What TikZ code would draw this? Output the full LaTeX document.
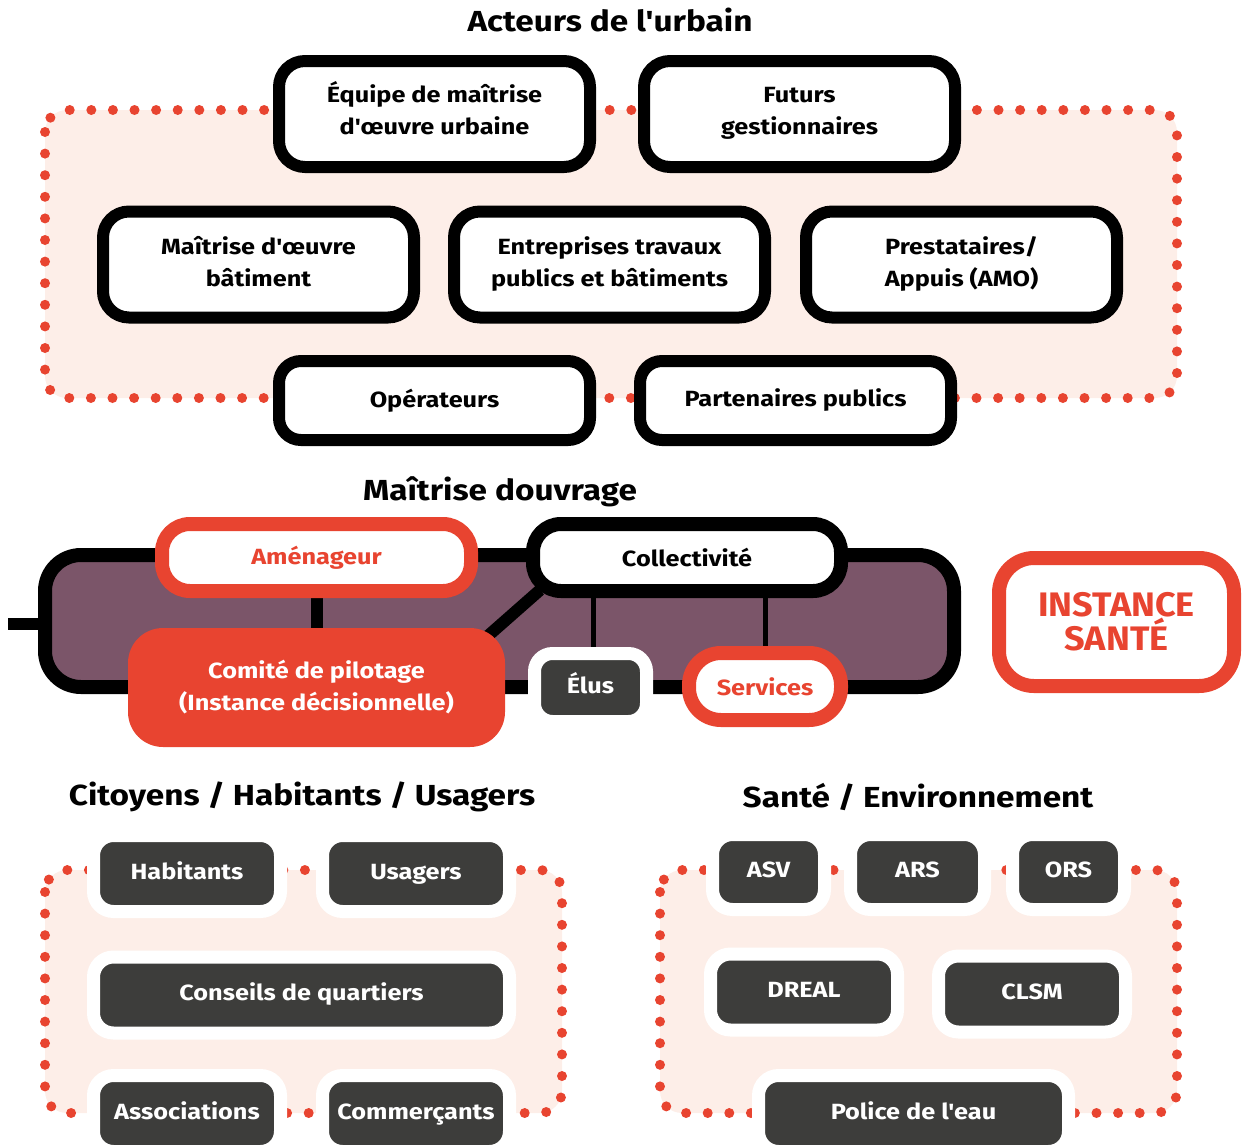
\documentclass[tikz,border=0pt]{standalone}
\usepackage{fontspec}
\setmainfont{Fira Sans}[Ligatures=TeXOff, FakeStretch=1.15]
\newfontfamily\condfont{Fira Sans}[Ligatures=TeXOff, FakeStretch=1.06]
\usetikzlibrary{calc}
\definecolor{rouge}{HTML}{E84430}
\definecolor{rose}{HTML}{FDEEE8}
\definecolor{fonce}{HTML}{3D3D3B}
\definecolor{violet}{HTML}{7B5569}
\pgfdeclarelayer{back}
\pgfdeclarelayer{links}
\pgfsetlayers{back,links,main}
\newcommand\deuxlignes[3]{\raisebox{#1}[\height][\depth]{\begin{tabular}{@{}c@{}}#2\\#3\end{tabular}}}
\tikzset{
  txt/.style={font=\bfseries\fontsize{22}{32}\selectfont, align=center, inner sep=0pt},
  titre/.style={font=\bfseries\fontsize{29}{34}\selectfont, inner sep=0pt},
  acteur/.style={txt, draw=black, line width=12pt, fill=white, rounded corners=26pt, minimum width=311pt, minimum height=106pt},
  acteurbas/.style={acteur, minimum height=79pt, rounded corners=22pt},
  zone/.style={draw=rouge, fill=rose, line width=10pt, dash pattern=on 0pt off 21.6pt, line cap=round, rounded corners=22pt},
  sombre/.style={txt, text=white, fill=fonce, draw=white, line width=13pt, rounded corners=20pt, minimum height=76pt, text height=16pt, text depth=5pt},
  lien/.style={draw=black, line width=12pt},
  lienfin/.style={draw=black, line width=5pt},
}
\begin{document}
\begin{tikzpicture}[x=1pt,y=-1pt]
\useasboundingbox (0,0) rectangle (1243,1144);

% ---------- Acteurs de l'urbain ----------
\node[titre] (t1) at (610,20) {Acteurs de l'urbain};
\begin{pgfonlayer}{back}
\draw[zone] (45,110) rectangle (1177,398);
\end{pgfonlayer}
\node[acteur] (equipe) at (434.5,114) {\deuxlignes{2pt}{Équipe de maîtrise}{d'œuvre urbaine}};
\node[acteur] (futurs) at (799.5,114) {\deuxlignes{2pt}{Futurs}{gestionnaires}};
\node[acteur] (moe) at (258.5,264.5) {\deuxlignes{0pt}{Maîtrise d'œuvre}{bâtiment}};
\node[acteur] (entr) at (609.5,264.5) {\deuxlignes{0pt}{Entreprises travaux}{publics et bâtiments}};
\node[acteur] (presta) at (961.5,264.5) {\deuxlignes{0pt}{Prestataires/}{Appuis (AMO)}};
\node[acteurbas] (oper) at (434.5,400.5) {Opérateurs};
\node[acteurbas] (part) at (795.5,400.5) {Partenaires publics};

% ---------- Maîtrise d'ouvrage ----------
\node[titre] (t2) at (500,492) {Maîtrise douvrage};
\begin{pgfonlayer}{back}
\node[draw=black, fill=violet, line width=14pt, rounded corners=36pt, minimum width=909pt, minimum height=132pt] (band) at (499.5,621) {};
\end{pgfonlayer}
\coordinate (stub) at (8,624);
\node[txt, text=rouge, draw=rouge, fill=white, line width=14pt, rounded corners=28pt, minimum width=309pt, minimum height=67pt] (amen) at (316.5,557.5) {Aménageur};
\node[txt, draw=black, fill=white, line width=14pt, rounded corners=28pt, minimum width=308pt, minimum height=67pt] (coll) at (687,557.5) {Collectivité};
\node[txt, text=white, fill=rouge, rounded corners=35pt, minimum width=377pt, minimum height=119pt] (comite) at (316.5,687.5) {Comité de pilotage\\(Instance décisionnelle)};
\node[sombre, minimum width=112pt, minimum height=68pt, rounded corners=18pt] (elus) at (590.5,687.5) {Élus};
\node[txt, text=rouge, draw=rouge, fill=white, line width=14pt, rounded corners=32pt, minimum width=152pt, minimum height=67pt] (serv) at (765,686.5) {Services};
\node[text=rouge, draw=rouge, fill=white, line width=14pt, rounded corners=35pt, minimum width=235pt, minimum height=128pt, align=center, inner sep=0pt, font=\condfont\bfseries\fontsize{34}{32}\selectfont] (sante) at (1116.5,622) {INSTANCE\\SANTÉ};
\begin{pgfonlayer}{links}
\draw[lien] (stub) -- (stub -| band.west);
\draw[lien] (amen.south) -- (comite.north);
\draw[lien] ($(coll.south west)+(14,-8)$) -- ($(comite.north east)+(-24,14)$);
\draw[lienfin] (593,0 |- coll.south) -- (593,0 |- elus.north);
\draw[lienfin] (serv.north |- coll.south) -- (serv.north);
\end{pgfonlayer}

% ---------- Citoyens ----------
\node[titre] (t3) at (302,797) {Citoyens / Habitants / Usagers};
\begin{pgfonlayer}{back}
\draw[zone] (45,870) rectangle (562,1113);
\end{pgfonlayer}
\node[sombre, minimum width=187pt] (hab) at (187,873.5) {Habitants};
\node[sombre, minimum width=187pt] (usa) at (416,873.5) {Usagers};
\node[sombre, minimum width=416pt] (cons) at (301.5,995) {Conseils de quartiers};
\node[sombre, minimum width=187pt] (asso) at (187,1113.5) {Associations};
\node[sombre, minimum width=187pt] (comm) at (416,1113.5) {Commerçants};

% ---------- Santé ----------
\node[titre] (t4) at (918,797) {Santé / Environnement};
\begin{pgfonlayer}{back}
\draw[zone] (660,870) rectangle (1177,1113);
\end{pgfonlayer}
\node[sombre, minimum width=112pt, minimum height=75pt] (asv) at (768.5,872) {ASV};
\node[sombre, minimum width=134pt, minimum height=75pt] (ars) at (917.5,872) {ARS};
\node[sombre, minimum width=112pt, minimum height=75pt] (ors) at (1068.5,872) {ORS};
\node[sombre, minimum width=187pt] (dreal) at (804,992) {DREAL};
\node[sombre, minimum width=187pt] (clsm) at (1032,994) {CLSM};
\node[sombre, minimum width=310pt] (police) at (913.5,1113.5) {Police de l'eau};
\end{tikzpicture}
\end{document}
